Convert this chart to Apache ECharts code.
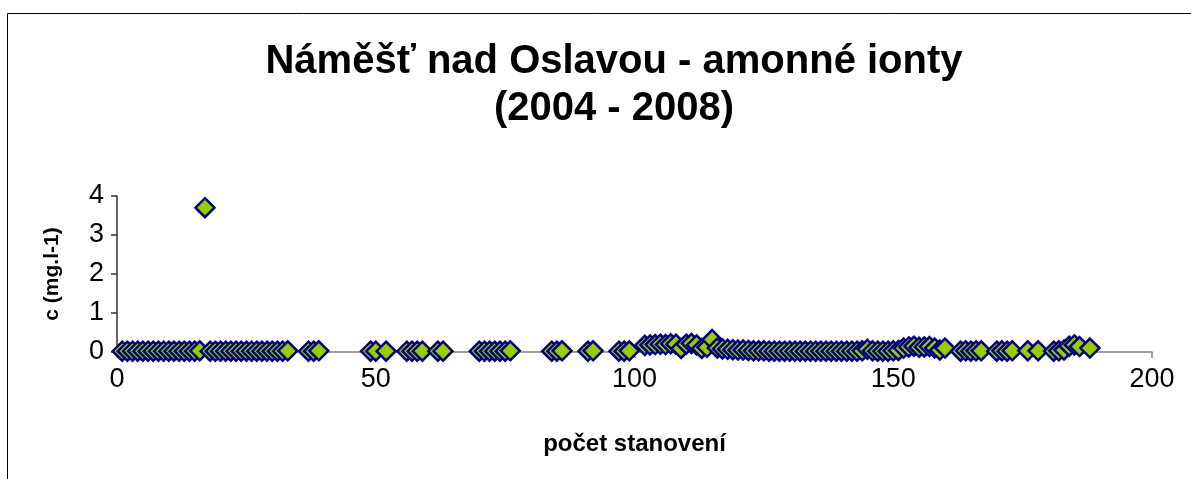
<!DOCTYPE html>
<html><head><meta charset="utf-8">
<script src="https://cdn.jsdelivr.net/npm/echarts@6/dist/echarts.min.js"></script>
<style>html,body{margin:0;padding:0;background:#fff}#c{width:1191px;height:479px}</style>
</head><body><div id="c"></div>
<script>
// x positions (počet stanovení) and concentrations c (mg.l-1)
const xValues = [
 1,2,3,4,5,6,7,8,9,10,11,12,13,14,15,16,17,
 18,19,20,21,22,23,24,25,26,27,28,29,30,31,32,33,
 37,38,39, 49,50,52, 56,57,58,59, 62,63, 70,71,72,73,74,75,76, 84,85,86, 91,92, 97,98,99,
 102,103,104,105,106,107,108,109,110,111,112,113,114,115,
 116,117,118,119,120,121,122,123,124,125,126,127,128,129,130,131,132,133,134,135,136,137,138,139,140,
 141,142,143,144,145,146,147,148,149,150,151,152,153,154,155,156,157,158,159,160,
 163,164,165,166,167, 170,171,172,173, 176, 178, 181,182,183,184,185,186, 188
];
const cValues = [
 0.02,0.02,0.02,0.02,0.02,0.02,0.02,0.02,0.02,0.02,0.02,0.02,0.02,0.02,0.02,0.03,3.7,
 0.02,0.02,0.02,0.02,0.02,0.02,0.02,0.02,0.02,0.02,0.02,0.02,0.02,0.02,0.02,0.03,
 0.02,0.02,0.03, 0.02,0.02,0.02, 0.02,0.02,0.02,0.02, 0.02,0.02, 0.02,0.02,0.02,0.02,0.02,0.02,0.03, 0.02,0.02,0.03, 0.02,0.03, 0.02,0.02,0.03,
 0.17,0.18,0.19,0.2,0.19,0.21,0.2,0.09,0.2,0.22,0.18,0.09,0.12,0.32,
 0.1,0.08,0.07,0.06,0.05,0.05,0.04,0.03,0.03,0.03,0.02,0.02,0.02,0.02,0.02,0.02,0.02,0.02,0.02,0.02,0.02,0.02,0.02,0.02,0.02,
 0.02,0.02,0.02,0.03,0.07,0.03,0.02,0.02,0.02,0.03,0.04,0.1,0.13,0.15,0.12,0.13,0.14,0.1,0.05,0.1,
 0.02,0.03,0.02,0.03,0.03, 0.02,0.03,0.02,0.03, 0.03, 0.03, 0.02,0.03,0.05,0.15,0.18,0.14, 0.1
];
const xTicks = [0,50,100,150,200];
const yTicks = [0,1,2,3,4];

const FONT = 'Liberation Sans, Arial, sans-serif';
const data = xValues.map((x,i)=>[x,cValues[i]]);
const chart = echarts.init(document.getElementById('c'));
chart.setOption({
  animation:false,
  backgroundColor:'#fff',
  title:{
    text:'Náměšť nad Oslavou - amonné ionty\n(2004 - 2008)',
    left:609, top:33, textAlign:'center',
    textStyle:{fontFamily:FONT,fontWeight:'bold',fontSize:40,color:'#000',lineHeight:47}
  },
  graphic:[{type:'rect',shape:{x:7.5,y:13.5,width:1200,height:500},style:{fill:null,stroke:'#000',lineWidth:1},silent:true,z:-1}],
  grid:{left:117,right:39,top:196,height:156,containLabel:false},
  xAxis:{
    type:'value',min:xTicks[0],max:xTicks[xTicks.length-1],interval:50,
    name:'počet stanovení',nameLocation:'middle',nameGap:80,
    nameTextStyle:{fontFamily:FONT,fontWeight:'bold',fontSize:24,color:'#000'},
    axisLine:{show:true,onZero:false,lineStyle:{color:'#808080',width:1.5}},
    axisTick:{show:true,inside:false,length:6,lineStyle:{color:'#808080',width:1.5}},
    axisLabel:{margin:14,fontFamily:FONT,fontSize:27,color:'#000'},
    splitLine:{show:false}
  },
  yAxis:{
    type:'value',min:yTicks[0],max:yTicks[yTicks.length-1],interval:1,
    name:'c (mg.l-1)',nameLocation:'middle',nameGap:54,nameRotate:90,
    nameTextStyle:{fontFamily:FONT,fontWeight:'bold',fontSize:21,color:'#000'},
    axisLine:{show:true,lineStyle:{color:'#333',width:1.5}},
    axisTick:{show:true,inside:false,length:6,lineStyle:{color:'#333',width:1.5}},
    axisLabel:{margin:13,fontFamily:FONT,fontSize:27,color:'#000'},
    splitLine:{show:false}
  },
  series:[{
    type:'scatter',data:data,symbol:'diamond',symbolSize:19,
    itemStyle:{color:'#99CC00',borderColor:'#000080',borderWidth:2.5,opacity:1}
  }]
});
</script></body></html>
